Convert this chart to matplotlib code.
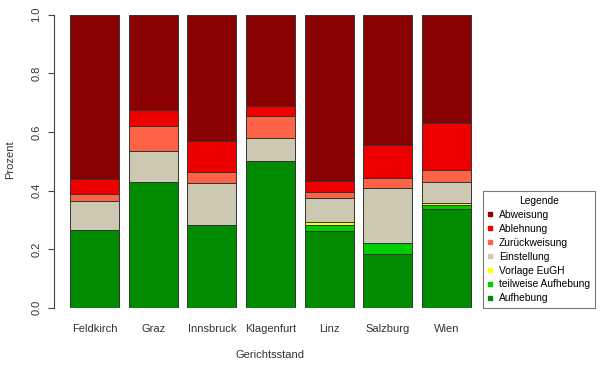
import numpy as np
import matplotlib.pyplot as plt
from matplotlib.lines import Line2D

plt.rcParams['font.family'] = ['Liberation Sans', 'DejaVu Sans']

# courts and share of each outcome (bottom to top of each stack)
courts = ['Feldkirch', 'Graz', 'Innsbruck', 'Klagenfurt', 'Linz', 'Salzburg', 'Wien']
aufhebung = [0.265, 0.429, 0.283, 0.501, 0.262, 0.184, 0.337]
teilweise = [0.000, 0.000, 0.000, 0.000, 0.020, 0.037, 0.015]
vorlage = [0.000, 0.000, 0.000, 0.000, 0.009, 0.000, 0.004]
einstellung = [0.098, 0.106, 0.144, 0.077, 0.082, 0.186, 0.072]
zurueck = [0.026, 0.086, 0.036, 0.077, 0.021, 0.037, 0.041]
ablehnung = [0.050, 0.053, 0.107, 0.033, 0.039, 0.112, 0.162]
abweisung = [0.561, 0.326, 0.430, 0.312, 0.567, 0.444, 0.369]

series = [aufhebung, teilweise, vorlage, einstellung, zurueck, ablehnung, abweisung]
labels = ['Aufhebung', 'teilweise Aufhebung', 'Vorlage EuGH', 'Einstellung',
          'Zurückweisung', 'Ablehnung', 'Abweisung']
colors = ['#008B00', '#00CD00', '#FFFF00', '#CDC8B1', '#FF6347', '#EE0000', '#8B0000']

fig = plt.figure(figsize=(6, 3.66), dpi=100)
ax = fig.add_axes([54 / 600, 1 - 307.7 / 366, (487 - 54) / 600, 293 / 366])

x = 0.7 + 1.2 * np.arange(len(courts))
bottom = np.zeros(len(courts))
for vals, col in zip(series, colors):
    ax.bar(x, vals, width=1.0, bottom=bottom, color=col,
           edgecolor='#333333', linewidth=0.7)
    bottom += np.array(vals)

ax.set_xlim(-0.128, 8.728)
ax.set_ylim(0, 1)
for s in ['top', 'right', 'bottom']:
    ax.spines[s].set_visible(False)
ax.spines['left'].set_color('#444444')
ax.spines['left'].set_linewidth(0.8)

ax.set_yticks([0, 0.2, 0.4, 0.6, 0.8, 1.0])
ax.set_yticklabels(['0.0', '0.2', '0.4', '0.6', '0.8', '1.0'],
                   rotation=90, va='center', fontsize=8, color='#333333')
ax.tick_params(axis='y', length=4, width=0.8, color='#444444', pad=5)
ax.set_xticks(x)
ax.set_xticklabels(courts, fontsize=8, color='#333333')
ax.tick_params(axis='x', length=0, pad=12)

fig.text(270 / 600, 1 - 355 / 366, 'Gerichtsstand', ha='center', va='center',
         fontsize=8, color='#333333')
fig.text(10 / 600, 1 - 160 / 366, 'Prozent', ha='center', va='center',
         rotation=90, fontsize=8, color='#333333')

handles = [Line2D([], [], marker='s', linestyle='none', markersize=3.5,
                  markerfacecolor=c, markeredgecolor=c)
           for c in colors[::-1]]
leg = fig.legend(handles, labels[::-1], title='Legende', loc='lower left',
                 bbox_to_anchor=(483 / 600, 1 - 308 / 366), fontsize=7.4,
                 title_fontsize=7.4, frameon=True, fancybox=False,
                 borderaxespad=0, handlelength=0.4, handletextpad=0.7,
                 labelspacing=0.38, borderpad=0.45)
leg.get_frame().set_edgecolor('#555555')
leg.get_frame().set_linewidth(0.8)

fig.savefig('out.png', dpi=100)
